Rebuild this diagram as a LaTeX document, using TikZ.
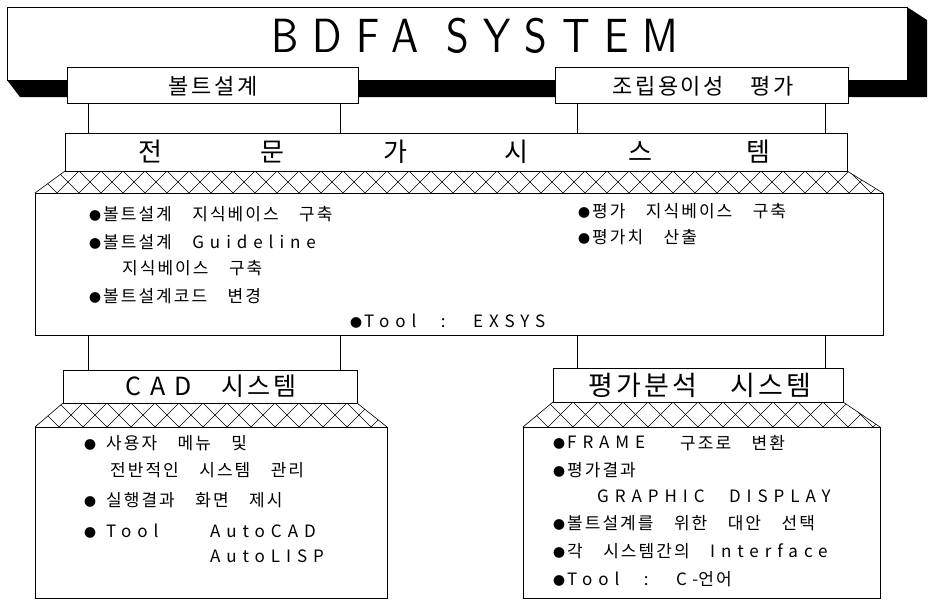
\documentclass[tikz,border=0pt]{standalone}
\usepackage{fontspec}
\setmainfont{Noto Sans CJK KR}[LetterSpace=12, WordSpace=3.5]
\newfontfamily\lat{Noto Sans CJK KR}[LetterSpace=35, WordSpace=2.5]
\newfontfamily\ttl{lmsans10-regular}[Extension=.otf, LetterSpace=30, FakeStretch=0.85]
\newcommand\bul{{\fontsize{12}{12}\selectfont ●}\hspace{2pt}}
\newcommand\hatchband[7]{%
  \begin{scope}
    \clip (#1,#5) -- (#2,#5) -- (#4,#6) -- (#3,#6) -- cycle;
    \pgfmathsetmacro\hh{#6-#5}
    \pgfmathsetmacro\xa{#3-#7}
    \pgfmathsetmacro\xb{#3}
    \foreach \xx in {\xa,\xb,...,#4} {
      \draw[hl] (\xx,#5) -- ++(#7,\hh);
      \draw[hl] (\xx+#7,#5) -- ++(-#7,\hh);
    }
  \end{scope}
  \draw[hl] (#1,#5) -- (#3,#6);
  \draw[hl] (#2,#5) -- (#4,#6);
}
\begin{document}
\begin{tikzpicture}[x=1pt,y=-1pt,
  box/.style={draw,fill=white,line width=0.8pt,inner sep=0pt},
  txt/.style={inner sep=0pt,anchor=west,font=\fontsize{17}{20}\selectfont},
  hl/.style={line width=0.6pt},
  conn/.style={line width=0.8pt}]
\useasboundingbox (0,0) rectangle (929,605);
\fill[white] (0,0) rectangle (929,605);
% shadow of title block
\fill[black] (907,7) -- (927,20) -- (927,97) -- (20,97) -- (7,80) -- cycle;
\node[box,minimum width=900pt,minimum height=73pt] (tbox) at (457,43.5) {};
\node[inner sep=0pt,font=\fontsize{48}{48}\selectfont\ttl] (title) at (475,36) {BDFA SYSTEM};
% sub boxes
\node[box,minimum width=291pt,minimum height=36pt] (bolt) at (212.5,85) {};
\node[box,minimum width=293pt,minimum height=36pt] (asm) at (701.5,85) {};
\node[inner sep=0pt,font=\fontsize{22}{22}\selectfont] (boltt) at (213,86) {볼트설계};
\node[inner sep=0pt,font=\fontsize{22}{22}\selectfont] (asmt) at (703,86) {조립용이성 평가};
% expert system
\node[box,minimum width=782pt,minimum height=38pt] (expert) at (456,152) {};
\node[inner sep=0pt,font=\fontsize{26}{26}\selectfont] (e1) at (150,152) {전};
\node[inner sep=0pt,font=\fontsize{26}{26}\selectfont] (e2) at (272,152) {문};
\node[inner sep=0pt,font=\fontsize{26}{26}\selectfont] (e3) at (395,152) {가};
\node[inner sep=0pt,font=\fontsize{26}{26}\selectfont] (e4) at (516,152) {시};
\node[inner sep=0pt,font=\fontsize{26}{26}\selectfont] (e5) at (640,152) {스};
\node[inner sep=0pt,font=\fontsize{26}{26}\selectfont] (e6) at (758,152) {템};
\hatchband{65}{847}{35}{883}{171}{193}{22}
\node[box,minimum width=848pt,minimum height=142pt] (kb) at (459,264) {};
% connectors
\coordinate (c1) at (88,0);
\coordinate (c2) at (340,0);
\coordinate (c3) at (577,0);
\coordinate (c4) at (825,0);
\draw[conn] (bolt.south -| c1) -- (expert.north -| c1);
\draw[conn] (bolt.south -| c2) -- (expert.north -| c2);
\draw[conn] (asm.south -| c3) -- (expert.north -| c3);
\draw[conn] (asm.south -| c4) -- (expert.north -| c4);
% knowledge base text
\node[txt] (k1) at (89,214) {\bul 볼트설계 지식베이스 구축};
\node[txt] (k2) at (89,242) {\bul 볼트설계 {\lat Guideline}};
\node[txt] (k3) at (122,268) {지식베이스 구축};
\node[txt] (k4) at (89,296) {\bul 볼트설계코드 변경};
\node[txt] (k5) at (350,321) {\bul{\lat Tool : EXSYS}};
\node[txt] (k6) at (578,211) {\bul 평가 지식베이스 구축};
\node[txt] (k7) at (578,237) {\bul 평가치 산출};
% CAD system
\node[box,minimum width=294pt,minimum height=33pt] (cadh) at (210,386.5) {};
\node[inner sep=0pt,font=\fontsize{25}{25}\selectfont] (cadt) at (211,386.5) {{\lat CAD} 시스템};
\hatchband{63}{357}{35}{387}{403}{427}{24}
\node[box,minimum width=352pt,minimum height=171pt] (cadb) at (211,512.5) {};
% evaluation system
\node[box,minimum width=290pt,minimum height=34pt] (evh) at (698,385) {};
\node[inner sep=0pt,font=\fontsize{27}{27}\selectfont] (evt) at (700,385) {평가분석 시스템};
\hatchband{553}{843}{523}{880}{402}{427}{25}
\node[box,minimum width=357pt,minimum height=171pt] (evb) at (701.5,512.5) {};
\draw[conn] (kb.south -| c1) -- (cadh.north -| c1);
\draw[conn] (kb.south -| c2) -- (cadh.north -| c2);
\draw[conn] (kb.south -| c3) -- (evh.north -| c3);
\draw[conn] (kb.south -| c4) -- (evh.north -| c4);
% CAD text
\node[txt] (a1) at (84,443) {\bul\hspace{8pt}사용자 메뉴 및};
\node[txt] (a2) at (110,470) {전반적인 시스템 관리};
\node[txt] (a3) at (84,500) {\bul\hspace{8pt}실행결과 화면 제시};
\node[txt] (a4) at (84,531) {\bul\hspace{8pt}{\lat Tool}};
\node[txt] (a5) at (210,531) {\lat AutoCAD};
\node[txt] (a6) at (210,556) {\lat AutoLISP};
% evaluation text
\node[txt] (b1) at (553,443) {\bul{\lat FRAME}};
\node[txt] (b1b) at (680,443) {구조로 변환};
\node[txt] (b2) at (553,470) {\bul 평가결과};
\node[txt] (b3) at (597,496) {\lat GRAPHIC DISPLAY};
\node[txt] (b4) at (553,523) {\bul 볼트설계를 위한 대안 선택};
\node[txt] (b5) at (553,551) {\bul 각 시스템간의 {\lat Interface}};
\node[txt] (b6) at (553,579) {\bul{\lat Tool : C-}언어};
\end{tikzpicture}
\end{document}
